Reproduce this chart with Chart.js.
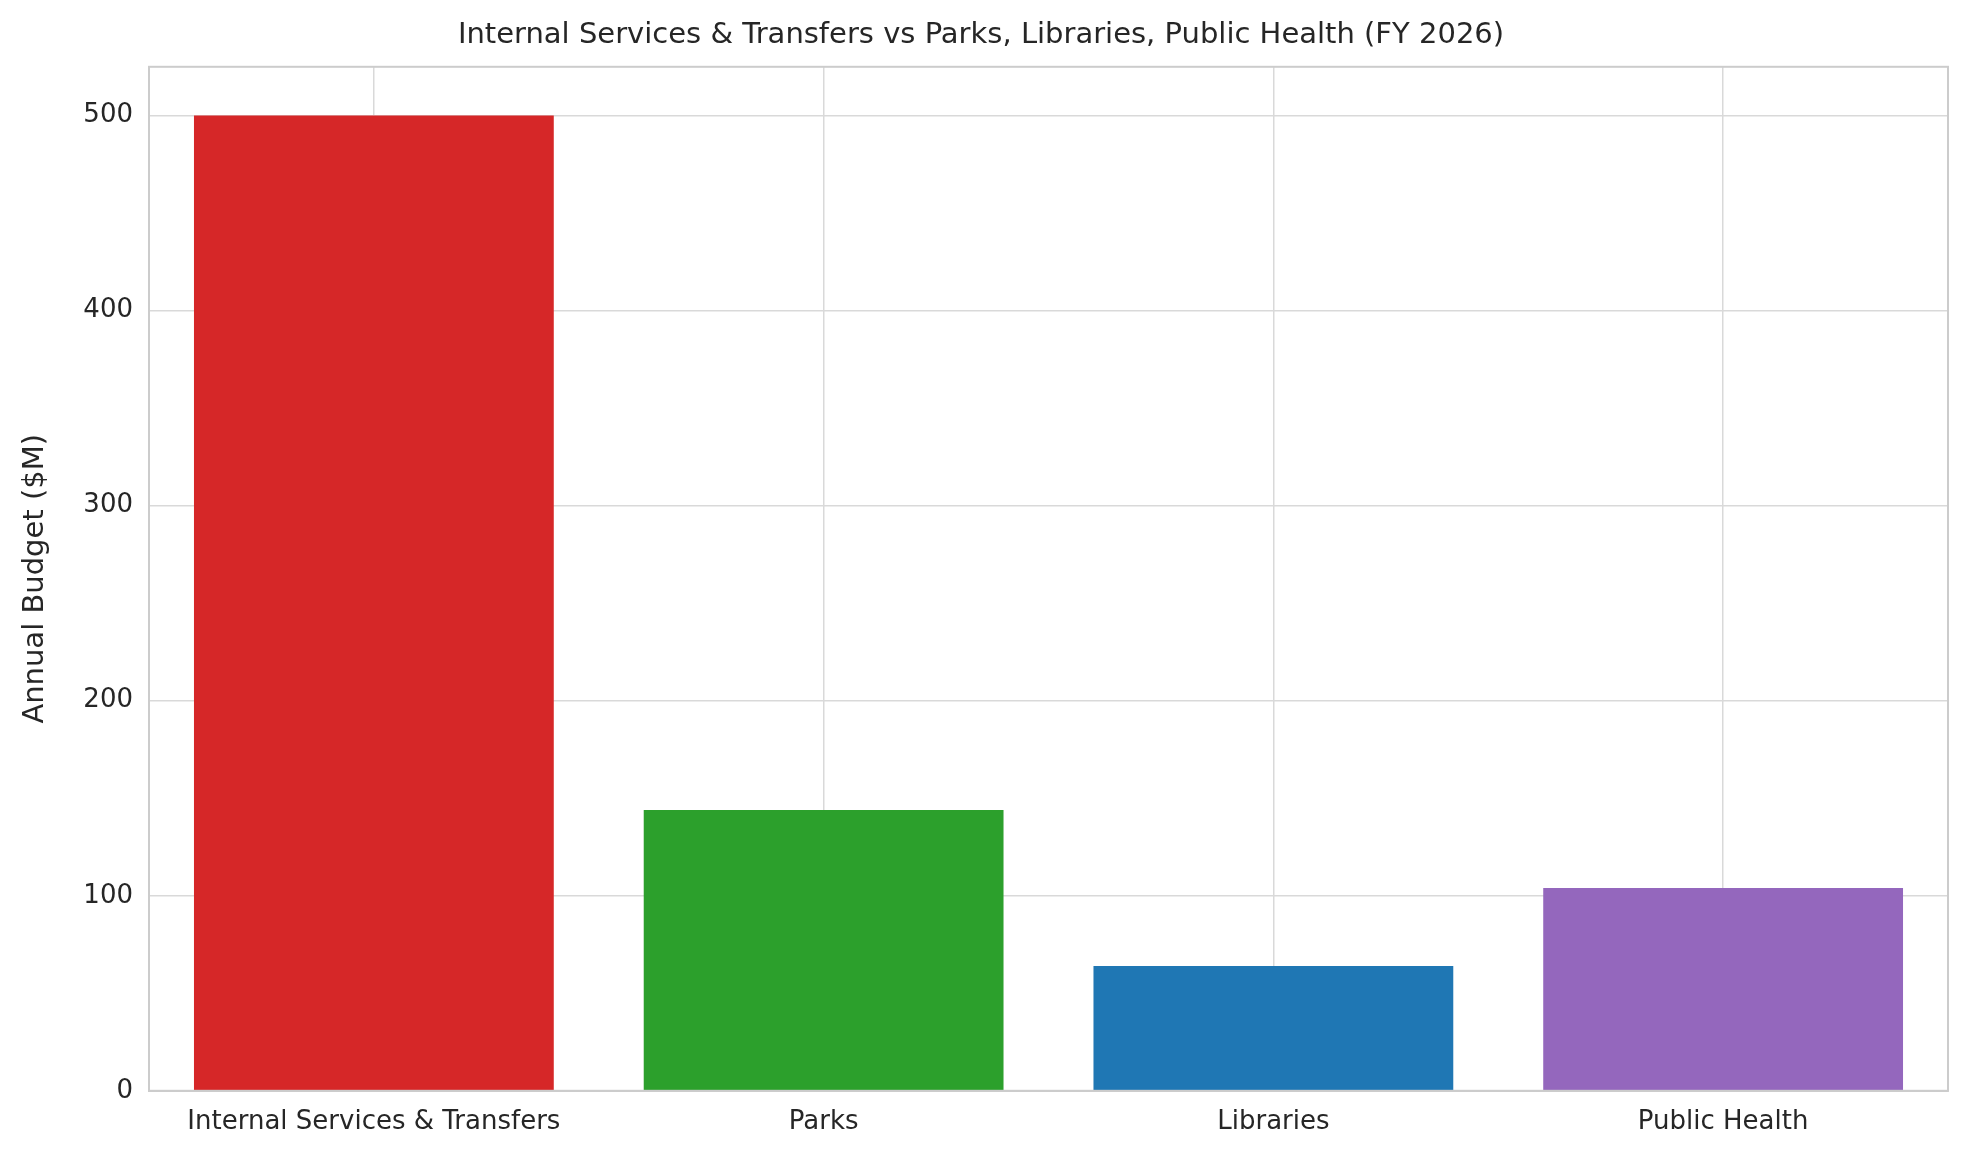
<!DOCTYPE html>
<html><head><meta charset="utf-8">
<script src="https://cdn.jsdelivr.net/npm/chart.js@4"></script>
<style>html,body{margin:0;background:#fff}#w{width:1968px;height:1168px}</style>
</head><body><div id="w"><canvas id="c"></canvas></div>
<script>
const categories = ["Internal Services & Transfers", "Parks", "Libraries", "Public Health"];
const values = [500, 144, 64, 104];
const colors = ["#d62728", "#2ca02c", "#1f77b4", "#9467bd"];
const yTicks = [0, 100, 200, 300, 400, 500];
const F = "'DejaVu Sans', sans-serif";
new Chart(document.getElementById('c'), {
  type: 'bar',
  data: { labels: categories, datasets: [{ data: values, backgroundColor: colors, categoryPercentage: 0.8, barPercentage: 1 }] },
  options: {
    responsive: true, maintainAspectRatio: false, animation: false,
    layout: { padding: { left: 14, right: 20, top: 12, bottom: 14 } },
    plugins: { legend: { display: false }, tooltip: { enabled: false },
      title: { display: true, text: "Internal Services & Transfers vs Parks, Libraries, Public Health (FY 2026)",
        color: '#262626', font: { family: F, size: 29, weight: 'normal' }, padding: { top: 6, bottom: 14 } } },
    scales: {
      x: { grid: { color: '#d9d9d9', lineWidth: 1.5, drawTicks: false, offset: false },
        border: { color: '#cccccc', width: 2 },
        ticks: { color: '#262626', font: { family: F, size: 26 }, padding: 16 } },
      y: { min: 0, max: 525,
        afterBuildTicks: a => { a.ticks = yTicks.map(v => ({ value: v })); },
        afterFit: a => { a.width = 135; },
        grid: { color: '#d9d9d9', lineWidth: 1.5, drawTicks: false },
        border: { color: '#cccccc', width: 2 },
        ticks: { color: '#262626', font: { family: F, size: 26 }, padding: 16 },
        title: { display: true, text: 'Annual Budget ($M)', color: '#262626', font: { family: F, size: 29 } } }
    }
  },
  plugins: [{ id: 'box', afterDraw(ch) { const a = ch.chartArea, c = ch.ctx; c.save(); c.strokeStyle = '#cccccc'; c.lineWidth = 2; c.strokeRect(a.left, a.top, a.right - a.left, a.bottom - a.top); c.restore(); } }]
});
</script></body></html>
